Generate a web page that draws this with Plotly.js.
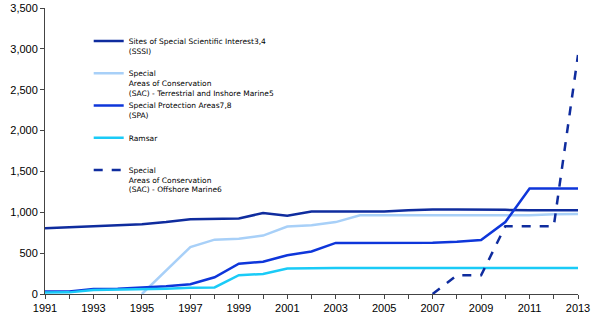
<!DOCTYPE html>
<html>
<head>
<meta charset="utf-8">
<script src="https://cdn.plot.ly/plotly-3.0.1.min.js"></script>
<style>html,body{margin:0;padding:0;background:#fff;}#chart{width:600px;height:326px;}</style>
</head>
<body>
<div id="chart"></div>
<script>
const years = [1991,1992,1993,1994,1995,1996,1997,1998,1999,2000,2001,2002,2003,2004,2005,2006,2007,2008,2009,2010,2011,2012,2013];
const sssi = [805,815,830,840,855,880,915,918,925,990,958,1010,1010,1010,1010,1025,1035,1035,1035,1030,1025,1025,1025];
const sacTerrestrial = [null,null,null,null,0,290,575,665,675,715,825,840,880,963,963,963,965,965,965,965,965,975,980];
const spa = [30,30,60,65,80,95,120,205,370,395,475,520,625,625,628,628,628,640,660,880,1290,1290,1290];
const ramsar = [18,20,48,52,58,65,75,80,230,245,312,318,318,318,318,318,318,318,318,318,318,318,318];
const sacOffshore = [null,null,null,null,null,null,null,null,null,null,null,null,null,null,null,null,0,228,228,830,830,830,2925];
const names = [
  "Sites of Special Scientific Interest3,4<br>(SSSI)<br> ",
  "Special<br>Areas of Conservation<br>(SAC) - Terrestrial and Inshore Marine5",
  "Special Protection Areas7,8<br>(SPA)<br> ",
  "Ramsar<br> <br> ",
  "Special<br>Areas of Conservation<br>(SAC) - Offshore Marine6"
];
const tickLabels = years.map((y,i)=> i%2===0 ? String(y) : "");

const traces = [
  {x: years, y: sssi, name: names[0], line:{color:'#0F2C9E', width:2.5}},
  {x: years, y: sacTerrestrial, name: names[1], line:{color:'#A8D0F8', width:2.5}},
  {x: years, y: spa, name: names[2], line:{color:'#0E36DA', width:2.5}},
  {x: years, y: ramsar, name: names[3], line:{color:'#1ACBF7', width:2.5}},
  {x: years, y: sacOffshore, name: names[4], line:{color:'#0F2C9E', width:2.5, dash:'dash'}}
].map(t => Object.assign({type:'scatter', mode:'lines', connectgaps:false}, t));

const layout = {
  width: 600, height: 326,
  margin: {l:45, r:22, t:8, b:32},
  paper_bgcolor:'#fff', plot_bgcolor:'#fff',
  font: {family:'Liberation Sans, Arial, sans-serif', color:'#000', size:11},
  showlegend: true,
  legend: {x:0.082, y:0.9245, xanchor:'left', yanchor:'top', bgcolor:'rgba(0,0,0,0)',
           font:{size:7.5, family:'DejaVu Sans, sans-serif'}, valign:'top',
           itemwidth:30, tracegroupgap:0},
  xaxis: {range:[1991,2013], tickvals: years, ticktext: tickLabels, ticks:'outside', ticklen:4,
          tickcolor:'#444', showline:true, linecolor:'#444', linewidth:1, showgrid:false, zeroline:false,
          tickfont:{size:11}},
  yaxis: {range:[0,3500], dtick:500, tickformat:',d', ticks:'outside', ticklen:4, tickcolor:'#444',
          showline:true, linecolor:'#444', linewidth:1, showgrid:false, zeroline:false, tickfont:{size:11}}
};
Plotly.newPlot('chart', traces, layout, {staticPlot:true, displayModeBar:false});
</script>
</body>
</html>
